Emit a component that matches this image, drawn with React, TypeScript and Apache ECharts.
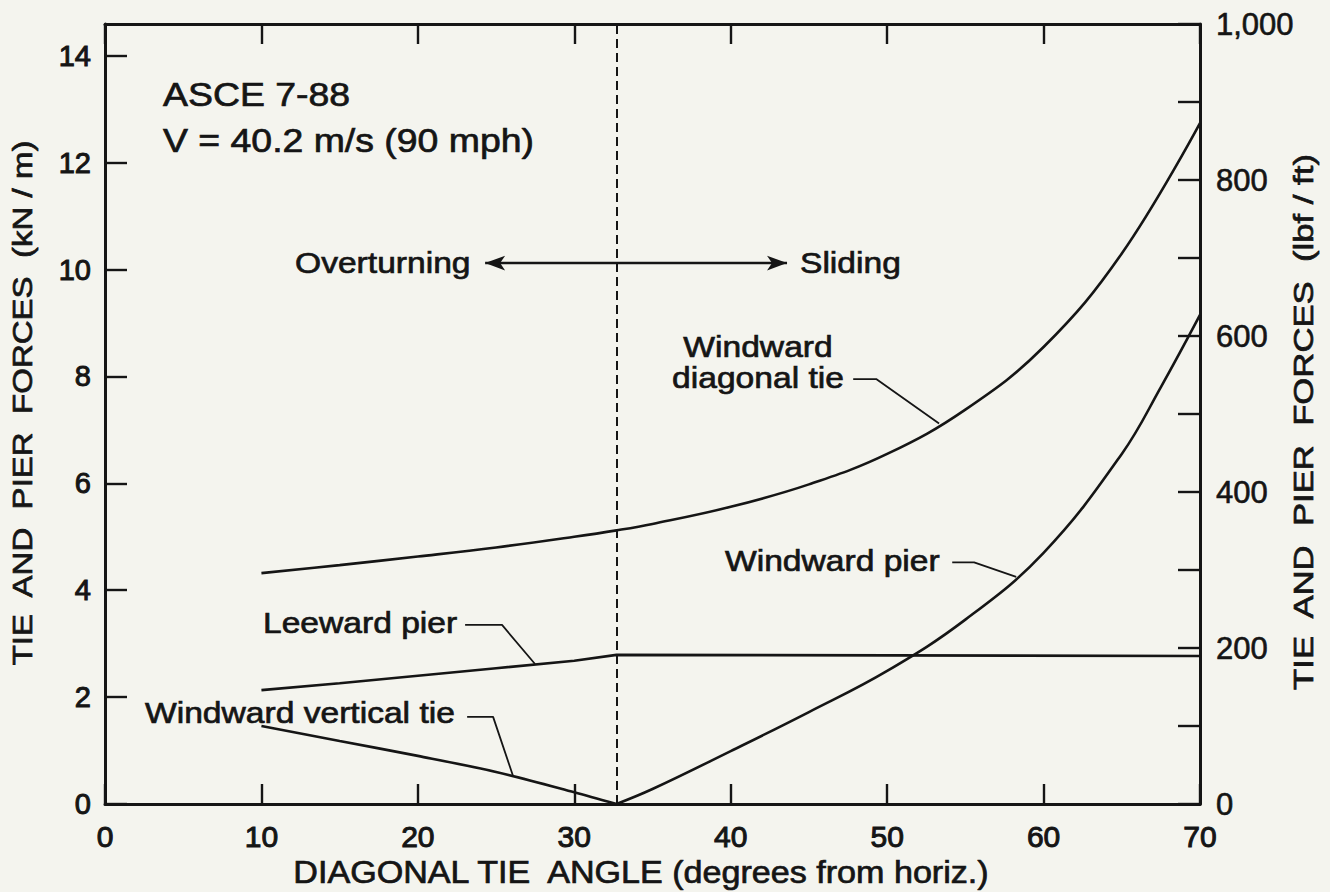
import React, { useEffect, useRef } from "react";
import * as echarts from "echarts";

// Unit conversion between the two force scales
const LBF_FT_TO_KN_M = 0.0145939;
const RIGHT_MAX = 1000; // lbf / ft
const LEFT_MAX = RIGHT_MAX * LBF_FT_TO_KN_M; // kN / m

// Angle at which the governing mode changes (overturning -> sliding)
const TRANSITION_ANGLE = 32.7;

// Windward diagonal tie (kN/m)
const diagAngles = [10, 15, 20, 25, 30, 32.7, 35, 40, 45, 50, 55, 60, 65, 70];
const diagForces = [4.32, 4.47, 4.63, 4.8, 5.0, 5.12, 5.24, 5.56, 5.98, 6.55, 7.38, 8.55, 10.3, 12.74];

// Leeward pier (kN/m)
const leeAngles = [10, 15, 20, 25, 30, 32.7, 70];
const leeForces = [2.13, 2.26, 2.4, 2.54, 2.68, 2.79, 2.77];

// Windward vertical tie (kN/m)
const vertAngles = [10, 15, 20, 25, 30, 32.7];
const vertForces = [1.46, 1.18, 0.9, 0.6, 0.22, 0];

// Windward pier (kN/m)
const pierAngles = [32.7, 35, 40, 45, 50, 55, 60, 65, 67.5, 70];
const pierForces = [0, 0.28, 0.99, 1.72, 2.49, 3.45, 4.7, 6.55, 7.8, 9.15];

// Leader lines from the curve captions to their curves [angle, force]
const diagLeader = [[47.83, 7.95], [49.3, 7.95], [53.32, 7.12]];
const pierLeader = [[54.16, 4.52], [55.56, 4.52], [58.25, 4.25]];
const leeLeader = [[23.02, 3.35], [25.38, 3.35], [27.49, 2.62]];
const vertLeader = [[23.15, 1.63], [24.81, 1.63], [26.09, 0.52]];

// Double-headed arrow between the two regimes
const regimeArrow = [[24.3, 10.12], [43.6, 10.12]];

const INK = "#151515";
const FONT = '"Liberation Sans", Arial, Helvetica, sans-serif';

const pairs = (xs: number[], ys: number[]) => xs.map((x, i) => [x, ys[i]]);

function text(
  content: string,
  x: number,
  y: number,
  size: number,
  opts: { align?: string; rotation?: number; scaleX?: number } = {}
) {
  const align = opts.align || "left";
  return {
    type: "text",
    x,
    y,
    rotation: opts.rotation || 0,
    scaleX: opts.scaleX || 1.12,
    silent: true,
    z: 10,
    style: {
      text: content,
      fontSize: size,
      fontFamily: FONT,
      fill: INK,
      stroke: INK,
      lineWidth: 0.7,
      textAlign: align,
      textVerticalAlign: "middle",
      align,
      verticalAlign: "middle",
    },
  };
}

function curve(name: string, data: number[][], smooth: boolean | number, width = 2.6) {
  return {
    name,
    type: "line",
    data,
    smooth,
    showSymbol: false,
    symbol: "none",
    silent: true,
    lineStyle: { color: INK, width },
  };
}

export default function App() {
  const ref = useRef<HTMLDivElement>(null);

  useEffect(() => {
    if (!ref.current) return;
    const chart = echarts.init(ref.current, undefined, { renderer: "svg" });

    const axisLine = { show: true, onZero: false, lineStyle: { color: INK, width: 3 } };
    const tick = (len: number) => ({
      show: true,
      inside: true,
      length: len,
      lineStyle: { color: INK, width: 2.4 },
    });
    const tickText = (size: number, heavy: number) => ({
      fontSize: size,
      fontFamily: FONT,
      color: INK,
      textBorderColor: INK,
      textBorderWidth: heavy,
    });

    chart.setOption({
      animation: false,
      backgroundColor: "#f4f4ee",
      grid: { left: 105, right: 130, top: 24, bottom: 88, containLabel: false },
      xAxis: [
        {
          type: "value",
          position: "bottom",
          min: 0,
          max: 70,
          interval: 10,
          axisLine,
          axisTick: tick(20),
          splitLine: { show: false },
          axisLabel: { margin: 17, ...tickText(30, 1) },
        },
        {
          type: "value",
          position: "top",
          min: 0,
          max: 70,
          interval: 10,
          axisLine,
          axisTick: tick(20),
          splitLine: { show: false },
          axisLabel: { show: false },
        },
      ],
      yAxis: [
        {
          type: "value",
          position: "left",
          min: 0,
          max: LEFT_MAX,
          interval: 2,
          axisLine,
          axisTick: tick(22),
          splitLine: { show: false },
          axisLabel: {
            margin: 14,
            ...tickText(29, 1),
            showMaxLabel: false,
            formatter: (v: number) => (Number.isInteger(v) ? String(v) : ""),
          },
        },
        {
          type: "value",
          position: "right",
          min: 0,
          max: RIGHT_MAX,
          interval: 100,
          axisLine,
          axisTick: tick(22),
          splitLine: { show: false },
          axisLabel: {
            margin: 16,
            ...tickText(31, 0.6),
            formatter: (v: number) =>
              v % 200 === 0 ? v.toLocaleString("en-US") : "",
          },
        },
      ],
      series: [
        {
          ...curve("Windward diagonal tie", pairs(diagAngles, diagForces), 0.4),
          markLine: {
            silent: true,
            symbol: "none",
            label: { show: false },
            lineStyle: { color: INK, width: 2, type: [9, 5] },
            data: [{ xAxis: TRANSITION_ANGLE }],
          },
        },
        curve("Leeward pier", pairs(leeAngles, leeForces), false),
        curve("Windward vertical tie", pairs(vertAngles, vertForces), 0.3),
        curve("Windward pier", pairs(pierAngles, pierForces), 0.4),
        curve("diag leader", diagLeader, false, 1.8),
        curve("pier leader", pierLeader, false, 1.8),
        curve("lee leader", leeLeader, false, 1.8),
        curve("vert leader", vertLeader, false, 1.8),
        {
          name: "regime arrow",
          type: "line",
          data: [],
          markLine: {
            silent: true,
            symbol: ["arrow", "arrow"],
            symbolSize: [11, 20],
            label: { show: false },
            lineStyle: { color: INK, width: 2.4, type: "solid" },
            data: [
              [
                { coord: regimeArrow[0] },
                { coord: regimeArrow[1] },
              ],
            ],
          },
        },
      ],
      graphic: [
        text("ASCE 7-88", 163, 95, 34, { scaleX: 1.1 }),
        text("V = 40.2 m/s (90 mph)", 163, 141, 34, { scaleX: 1.1 }),
        text("Overturning", 295, 263, 30),
        text("Sliding", 800, 263, 30),
        text("Windward", 758, 347, 30, { align: "center" }),
        text("diagonal tie", 758, 378, 30, { align: "center" }),
        text("Windward pier", 725, 561, 30),
        text("Leeward pier", 263, 623, 30),
        text("Windward vertical tie", 145, 713, 30),
        text("DIAGONAL TIE  ANGLE (degrees from horiz.)", 641, 873, 31, {
          align: "center",
          scaleX: 1.1,
        }),
        text("TIE  AND  PIER  FORCES  (kN / m)", 22, 403, 28, {
          align: "center",
          rotation: Math.PI / 2,
          scaleX: 1.18,
        }),
        text("TIE  AND  PIER  FORCES  (lbf / ft)", 1303, 422, 28, {
          align: "center",
          rotation: Math.PI / 2,
          scaleX: 1.24,
        }),
      ],
    });

    return () => chart.dispose();
  }, []);

  return (
    <div
      ref={ref}
      style={{ position: "fixed", left: 0, top: 0, width: 1330, height: 892 }}
    />
  );
}
